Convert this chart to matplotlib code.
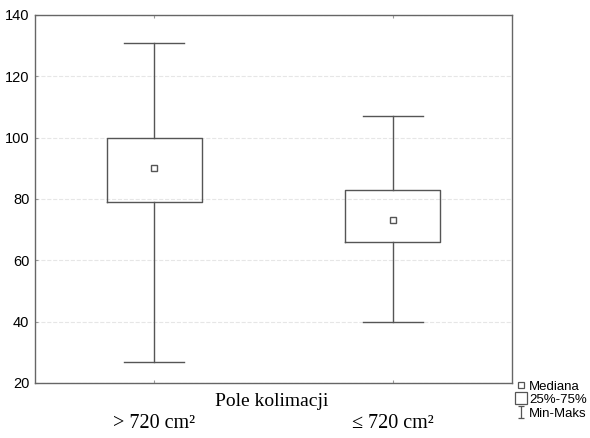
import matplotlib
matplotlib.use('Agg')
import matplotlib.pyplot as plt
from matplotlib.lines import Line2D
from matplotlib.path import Path

# values
groups = ['> 720 cm²', '≤ 720 cm²']
mins = [27, 40]
q1s = [79, 66]
medians = [90, 73]
q3s = [100, 83]
maxs = [131, 107]
yticks = [20, 40, 60, 80, 100, 120, 140]

positions = [1, 2]
stats = []
for i in range(len(groups)):
    stats.append({'whislo': mins[i], 'q1': q1s[i], 'med': medians[i],
                  'q3': q3s[i], 'whishi': maxs[i], 'fliers': []})

fig = plt.figure(figsize=(5.9, 4.38), dpi=100)
ax = fig.add_axes([35 / 590, 1 - 383 / 438, 477 / 590, 368 / 438])

lc = '#555555'
ax.bxp(stats, positions=positions, widths=0.4, showfliers=False,
       boxprops=dict(color=lc, linewidth=1.0),
       whiskerprops=dict(color=lc, linewidth=1.0),
       capprops=dict(color=lc, linewidth=1.0),
       medianprops=dict(linestyle='none'),
       capwidths=0.25)
ax.plot(positions, medians, ls='none', marker='s', ms=5, mfc='white',
        mec=lc, mew=1.0)

ax.set_xlim(0.5, 2.5)
ax.set_ylim(20, 140)
ax.set_yticks(yticks)
ax.set_yticklabels([str(t) for t in yticks], fontsize=10.5, family='Liberation Sans')
ax.tick_params(axis='y', length=2, direction='in', color='#999999', pad=4)
ax.set_xticks(positions)
ax.set_xticklabels([])
ax.tick_params(axis='x', length=2, direction='in', color='#999999', top=True)
ax.grid(axis='y', color='#e6e6e6', linewidth=0.8, linestyle='--')
for s in ax.spines.values():
    s.set_color('#666666')
    s.set_linewidth(1.0)

# axis title and group labels in serif, as printed
fig.text(272 / 590, 1 - 401 / 438, 'Pole kolimacji', ha='center', va='center',
         fontsize=14, family='Liberation Serif')
for p, g in zip(positions, groups):
    xf = ax.transData.transform((p, 0))[0] / fig.bbox.width
    fig.text(xf, 1 - 423 / 438, g, ha='center', va='center', fontsize=14.5,
             family='Liberation Serif')

# legend
ibeam = Path([(-0.5, 1), (0.5, 1), (0, 1), (0, -1), (-0.5, -1), (0.5, -1)],
             [Path.MOVETO, Path.LINETO, Path.MOVETO, Path.LINETO,
              Path.MOVETO, Path.LINETO])
handles = [
    Line2D([], [], ls='none', marker='s', ms=4, mfc='white', mec=lc, mew=0.9),
    Line2D([], [], ls='none', marker='s', ms=8, mfc='white', mec=lc, mew=0.9),
    Line2D([], [], ls='none', marker=ibeam, ms=8, mfc='none', mec=lc, mew=0.9),
]
fig.legend(handles, ['Mediana', '25%-75%', 'Min-Maks'], loc='upper left',
           bbox_to_anchor=(515 / 590, 1 - 379 / 438), frameon=False,
           prop={'family': 'Liberation Sans', 'size': 9.5},
           handlelength=0.7, handletextpad=0.25, labelspacing=0.1,
           borderpad=0.1, borderaxespad=0)

fig.savefig('out.png', dpi=100)
